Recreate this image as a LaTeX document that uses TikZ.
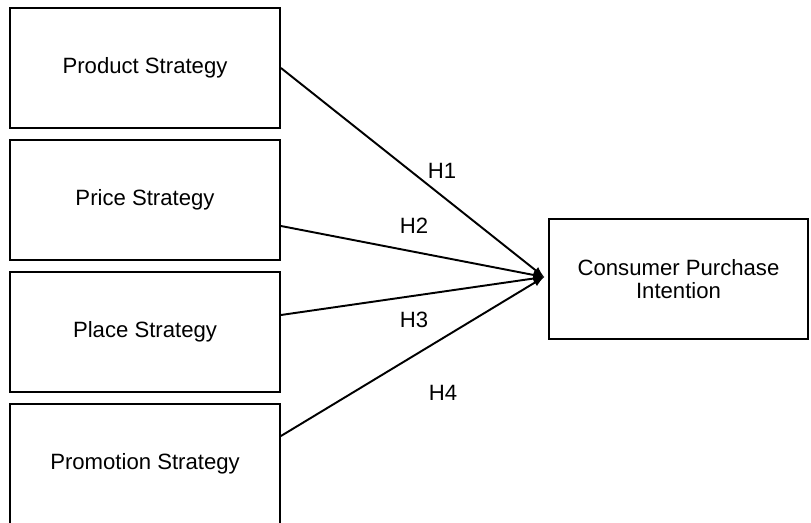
\documentclass[tikz,border=0pt]{standalone}
\usepackage{fontspec}
\setmainfont{Liberation Sans}
\usetikzlibrary{arrows}
\tikzset{factorbox/.style={draw,line width=1.1pt,minimum width=5.4cm,minimum height=2.4cm,inner sep=0pt,font=\fontsize{12.6}{13.2}\selectfont},
hlabel/.style={inner sep=0pt,font=\fontsize{12.6}{13.2}\selectfont}}

\begin{document}
\begin{tikzpicture}[x=.02cm,y=-.02cm]
\useasboundingbox (0,0) rectangle (811,523);
\node[factorbox] (prod) at (145,68) {Product Strategy};
\node[factorbox] (price) at (145,200) {Price Strategy};
\node[factorbox] (place) at (145,332) {Place Strategy};
\node[factorbox] (promo) at (145,464) {Promotion Strategy};
\node[factorbox,minimum width=5.18cm,align=center] (cpi) at (678.5,279) {Consumer Purchase\\Intention};
\coordinate (tip) at ([xshift=-.08cm,yshift=.04cm]cpi.west);
\draw[-{latex[scale=1.4]},line width=1.1pt] (prod.east) -- (tip);
\draw[-{latex[scale=1.4]},line width=1.1pt] ([yshift=-.52cm]price.east) -- (tip);
\draw[-{latex[scale=1.4]},line width=1.1pt] ([yshift=.34cm]place.east) -- (tip);
\draw[-{latex[scale=1.4]},line width=1.1pt] ([yshift=.56cm]promo.east) -- (tip);
\node[hlabel] (h1) at (442,171) {H1};
\node[hlabel] (h2) at (414,226) {H2};
\node[hlabel] (h3) at (414,320) {H3};
\node[hlabel] (h4) at (443,393) {H4};
\end{tikzpicture}
\end{document}
